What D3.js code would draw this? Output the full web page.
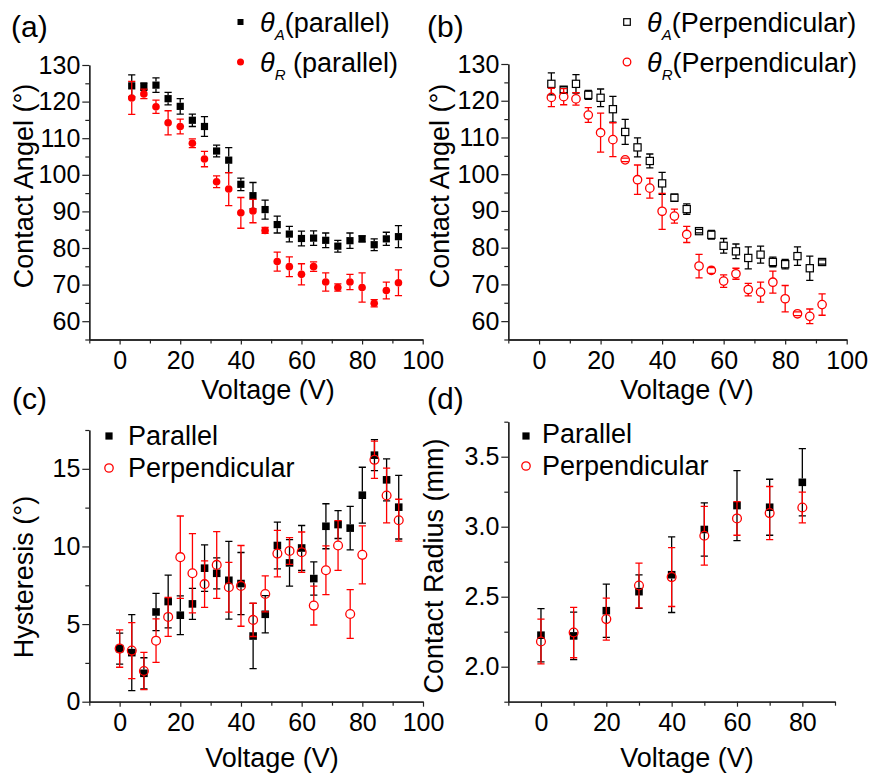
<!DOCTYPE html>
<html>
<head>
<meta charset="utf-8">
<script src="https://cdn.jsdelivr.net/npm/d3@7"></script>
<style>
  body { margin: 0; background: #fff; }
  svg text { font-family: "Liberation Sans", Arial, sans-serif; fill: #000; }
</style>
</head>
<body>
<div id="fig"></div>
<script>
// =============================================
// data
const voltAB = [4, 8, 12, 16, 20, 24, 28, 32, 36, 40, 44, 48, 52, 56, 60, 64, 68, 72, 76, 80, 84, 88, 92];

const thetaAPar    = [124.3, 124.1, 124.5, 120.8, 118.7, 114.9, 113.2, 106.5, 104.0, 97.4, 94.3, 90.5, 86.4, 83.8, 82.6, 82.7, 82.1, 80.5, 82.0, 82.5, 80.9, 82.5, 83.1];
const thetaAParErr = [3.0, 1.0, 2.0, 1.7, 2.1, 1.7, 2.7, 1.6, 3.4, 1.7, 3.6, 2.6, 2.3, 2.1, 2.0, 2.0, 2.0, 1.6, 2.1, 0.8, 1.6, 1.8, 3.0];
const thetaRPar    = [121.0, 122.1, 118.6, 114.2, 113.2, 108.6, 104.3, 98.1, 96.1, 89.6, 90.1, 84.8, 76.3, 74.9, 72.8, 74.9, 70.7, 69.2, 70.7, 69.2, 64.9, 68.4, 70.5];
const thetaRParErr = [4.5, 1.3, 1.8, 3.3, 2.0, 1.2, 2.1, 1.6, 4.5, 4.2, 3.2, 0.8, 2.6, 2.7, 2.9, 1.3, 2.5, 1.0, 2.1, 4.0, 1.0, 2.3, 3.5];

const thetaAPerp    = [124.6, 123.0, 124.6, 121.6, 120.8, 117.7, 111.5, 107.3, 103.6, 97.5, 93.6, 90.5, 84.5, 83.5, 80.5, 79.0, 77.2, 78.1, 76.1, 75.5, 77.7, 74.4, 76.1];
const thetaAPerpErr = [3.0, 0.8, 2.5, 1.2, 2.4, 3.5, 3.4, 2.6, 1.9, 3.0, 1.0, 1.4, 0.5, 1.2, 2.0, 2.0, 3.0, 2.3, 1.3, 1.3, 2.5, 3.3, 0.6];
const thetaRPerp    = [120.9, 121.1, 120.5, 116.1, 111.3, 109.4, 103.9, 98.5, 96.2, 89.9, 88.6, 83.6, 75.0, 73.8, 70.9, 72.9, 68.6, 67.9, 70.6, 66.1, 62.0, 61.3, 64.5];
const thetaRPerpErr = [2.5, 2.2, 1.7, 2.0, 5.3, 4.6, 0.5, 4.0, 2.7, 4.9, 1.9, 2.2, 3.2, 0.8, 1.7, 1.5, 1.7, 2.7, 3.0, 3.6, 0.5, 2.0, 2.9];

const voltC = [0, 4, 8, 12, 16, 20, 24, 28, 32, 36, 40, 44, 48, 52, 56, 60, 64, 68, 72, 76, 80, 84, 88, 92];
const hystPar     = [3.42, 3.16, 1.83, 5.78, 6.45, 5.57, 6.30, 8.60, 8.27, 7.82, 7.61, 4.23, 5.63, 10.06, 8.94, 9.90, 7.93, 11.30, 11.41, 11.18, 13.30, 15.88, 14.29, 12.53];
const hystParErr  = [1.0, 2.45, 1.0, 1.2, 1.7, 1.25, 1.0, 1.5, 1.0, 2.5, 2.0, 2.1, 1.2, 1.5, 1.5, 1.45, 1.07, 1.45, 0.9, 1.4, 1.8, 1.0, 1.35, 2.05];
const hystPerp    = [3.42, 3.29, 1.98, 3.93, 5.46, 9.31, 8.27, 7.57, 8.81, 7.37, 7.46, 5.27, 6.94, 9.54, 9.71, 9.63, 6.19, 8.47, 10.06, 5.65, 9.46, 15.58, 13.28, 11.69];
const hystPerpErr = [1.2, 1.8, 1.2, 1.4, 1.25, 2.65, 2.55, 1.5, 2.15, 1.6, 2.6, 1.07, 1.16, 1.5, 0.86, 1.3, 1.25, 1.57, 1.6, 1.57, 1.87, 1.2, 1.76, 1.35];

const voltD = [0, 10, 20, 30, 40, 50, 60, 70, 80];
const radPar     = [2.225, 2.22, 2.40, 2.536, 2.657, 2.98, 3.151, 3.139, 3.317];
const radParErr  = [0.19, 0.17, 0.19, 0.12, 0.27, 0.19, 0.25, 0.20, 0.24];
const radPerp    = [2.18, 2.244, 2.34, 2.58, 2.64, 2.935, 3.059, 3.097, 3.137];
const radPerpErr = [0.16, 0.18, 0.15, 0.16, 0.21, 0.21, 0.12, 0.19, 0.11];

// tick labels
const xTicks100      = [0, 20, 40, 60, 80, 100];
const xMinor100      = [-10, 10, 30, 50, 70, 90];
const xTicks80       = [0, 20, 40, 60, 80];
const xMinor80       = [-10, 10, 30, 50, 70, 90];
const angleTicks     = [60, 70, 80, 90, 100, 110, 120, 130];
const angleMinor     = [55, 65, 75, 85, 95, 105, 115, 125];
const hystTicks      = [0, 5, 10, 15];
const hystMinor      = [2.5, 7.5, 12.5, 17.5];
const radTicks       = [2.0, 2.5, 3.0, 3.5];
const radMinor       = [1.75, 2.25, 2.75, 3.25, 3.75];

const RED = '#ff0000';
const AXIS = '#222';

// =============================================
let svg = d3.select('#fig')
            .append('svg')
            .attr('width', 871)
            .attr('height', 773);

function drawAxes(p) {
  let x = d3.scaleLinear().domain(p.xDom).range([p.left, p.right]);
  let y = d3.scaleLinear().domain(p.yDom).range([p.bottom, p.top]);
  let g = svg.append('g');

  // minor ticks first
  g.append('g')
   .attr('transform', `translate(0,${p.bottom})`)
   .call(d3.axisBottom(x).tickValues(p.xMinor).tickSize(4).tickSizeOuter(0).tickFormat(''));
  g.append('g')
   .attr('transform', `translate(${p.left},0)`)
   .call(d3.axisLeft(y).tickValues(p.yMinor).tickSize(4).tickSizeOuter(0).tickFormat(''));

  g.append('g')
   .attr('class', 'xaxis')
   .attr('transform', `translate(0,${p.bottom})`)
   .call(d3.axisBottom(x).tickValues(p.xTicks).tickSize(5).tickPadding(7).tickSizeOuter(0));
  g.append('g')
   .attr('class', 'yaxis')
   .attr('transform', `translate(${p.left},0)`)
   .call(d3.axisLeft(y).tickValues(p.yTicks).tickSize(7).tickPadding(2).tickSizeOuter(0)
          .tickFormat(p.yFmt || d3.format('d')));

  g.selectAll('.domain').attr('stroke', AXIS).attr('stroke-width', 1.3);
  g.selectAll('.tick line').attr('stroke', AXIS).attr('stroke-width', 1.2);
  g.selectAll('.tick text')
   .attr('fill', '#000')
   .style('font-size', '25px')
   .style('font-family', '"Liberation Sans", Arial, sans-serif');

  // axis titles
  g.append('text')
   .attr('transform', `translate(${p.yTitleX},${p.yTitleY}) rotate(-90)`)
   .attr('text-anchor', 'middle')
   .style('font-size', '27px')
   .text(p.yTitle);
  g.append('text')
   .attr('x', p.xTitleX)
   .attr('y', p.xTitleY)
   .attr('text-anchor', 'middle')
   .style('font-size', '27px')
   .text('Voltage (V)');

  // panel letter
  g.append('text')
   .attr('x', p.labX)
   .attr('y', p.labY)
   .style('font-size', '30px')
   .text(p.label);

  return { x: x, y: y, g: g };
}

function addSeries(ax, xs, ys, es, o) {
  let data = xs.map((v, i) => ({ x: v, y: ys[i], e: es[i] }));
  let half = o.half;
  let cap = 3.6;
  let g = ax.g.append('g');

  g.selectAll('path.err')
   .data(data)
   .enter()
   .append('path')
   .attr('class', 'err')
   .attr('fill', 'none')
   .attr('stroke', o.color)
   .attr('stroke-width', 1.3)
   .attr('d', function(d) {
     let px = ax.x(d.x), py = ax.y(d.y);
     let top = ax.y(d.y + d.e), bot = ax.y(d.y - d.e);
     let s = '';
     if (top < py - half) s += `M${px},${py - half}V${top}`;
     s += `M${px - cap},${top}H${px + cap}`;
     if (bot > py + half) s += `M${px},${py + half}V${bot}`;
     s += `M${px - cap},${bot}H${px + cap}`;
     return s;
   });

  if (o.shape === 'square') {
    g.selectAll('rect')
     .data(data)
     .enter()
     .append('rect')
     .attr('x', d => ax.x(d.x) - half)
     .attr('y', d => ax.y(d.y) - half)
     .attr('width', half * 2)
     .attr('height', half * 2)
     .attr('fill', o.open ? 'none' : o.color)
     .attr('stroke', o.color)
     .attr('stroke-width', o.open ? 1.2 : 0);
  } else {
    g.selectAll('circle')
     .data(data)
     .enter()
     .append('circle')
     .attr('cx', d => ax.x(d.x))
     .attr('cy', d => ax.y(d.y))
     .attr('r', half)
     .attr('fill', o.open ? 'none' : o.color)
     .attr('stroke', o.color)
     .attr('stroke-width', o.open ? 1.3 : 0);
  }
}

function legendRow(px, py, tx, ty, shape, open, color, size, parts) {
  if (shape === 'square') {
    svg.append('rect')
       .attr('x', px - size).attr('y', py - size)
       .attr('width', size * 2).attr('height', size * 2)
       .attr('fill', open ? 'none' : color)
       .attr('stroke', color).attr('stroke-width', open ? 1.2 : 0);
  } else {
    svg.append('circle')
       .attr('cx', px).attr('cy', py).attr('r', size)
       .attr('fill', open ? 'none' : color)
       .attr('stroke', color).attr('stroke-width', open ? 1.3 : 0);
  }
  let t = svg.append('text').attr('x', tx).attr('y', ty).style('font-size', '27px');
  if (parts.sub) {
    t.append('tspan').style('font-style', 'italic').text('\u03B8');
    t.append('tspan').style('font-style', 'italic').style('font-size', '15px')
     .attr('dy', 8).text(parts.sub);
    t.append('tspan').attr('dy', -8).text(parts.text);
  } else {
    t.text(parts.text);
  }
}

// =============================================
// (a) parallel contact angles
let axA = drawAxes({
  left: 89.3, right: 422.7, top: 65, bottom: 339.5,
  xDom: [-10, 100], yDom: [55, 130],
  xTicks: xTicks100, xMinor: xMinor100, yTicks: angleTicks, yMinor: angleMinor,
  yTitle: 'Contact Angel (\u00B0)', yTitleX: 33, yTitleY: 186,
  xTitleX: 268, xTitleY: 399, label: '(a)', labX: 11, labY: 37
});
addSeries(axA, voltAB, thetaAPar, thetaAParErr, { color: '#000', shape: 'square', half: 3.6 });
addSeries(axA, voltAB, thetaRPar, thetaRParErr, { color: RED, shape: 'circle', half: 3.8 });
legendRow(240.5, 22, 260, 32, 'square', false, '#000', 3, { sub: 'A', text: '(parallel)' });
legendRow(240.5, 62, 260, 72, 'circle', false, RED, 3.5, { sub: 'R', text: ' (parallel)' });

// (b) perpendicular contact angles
let axB = drawAxes({
  left: 508.3, right: 846.7, top: 64, bottom: 339.5,
  xDom: [-10, 100], yDom: [55, 130],
  xTicks: xTicks100, xMinor: xMinor100, yTicks: angleTicks, yMinor: angleMinor,
  yTitle: 'Contact Angel (\u00B0)', yTitleX: 449, yTitleY: 186,
  xTitleX: 687, xTitleY: 399, label: '(b)', labX: 427, labY: 37
});
addSeries(axB, voltAB, thetaAPerp, thetaAPerpErr, { color: '#000', shape: 'square', half: 3.6, open: true });
addSeries(axB, voltAB, thetaRPerp, thetaRPerpErr, { color: RED, shape: 'circle', half: 4.2, open: true });
legendRow(627, 22, 647, 32, 'square', true, '#000', 3.3, { sub: 'A', text: '(Perpendicular)' });
legendRow(627, 62, 647, 72, 'circle', true, RED, 3.8, { sub: 'R', text: '(Perpendicular)' });

// (c) hysteresis
let axC = drawAxes({
  left: 89.3, right: 423, top: 430, bottom: 701.7,
  xDom: [-10, 100], yDom: [0, 17.5],
  xTicks: xTicks100, xMinor: xMinor100, yTicks: hystTicks, yMinor: hystMinor,
  yTitle: 'Hysteresis (\u00B0)', yTitleX: 33, yTitleY: 577,
  xTitleX: 272, xTitleY: 767, label: '(c)', labX: 12, labY: 409
});
addSeries(axC, voltC, hystPar, hystParErr, { color: '#000', shape: 'square', half: 3.8 });
addSeries(axC, voltC, hystPerp, hystPerpErr, { color: RED, shape: 'circle', half: 4.4, open: true });
legendRow(109, 436, 128, 445, 'square', false, '#000', 3.6, { text: 'Parallel' });
legendRow(109, 468, 128, 477, 'circle', true, RED, 4.2, { text: 'Perpendicular' });

// (d) contact radius
let axD = drawAxes({
  left: 508.3, right: 835, top: 421.7, bottom: 701.7,
  xDom: [-10, 90], yDom: [1.75, 3.75],
  xTicks: xTicks80, xMinor: xMinor80, yTicks: radTicks, yMinor: radMinor, yFmt: d3.format('.1f'),
  yTitle: 'Contact Radius (mm)', yTitleX: 443, yTitleY: 566,
  xTitleX: 687, xTitleY: 767, label: '(d)', labX: 427, labY: 409
});
addSeries(axD, voltD, radPar, radParErr, { color: '#000', shape: 'square', half: 3.8 });
addSeries(axD, voltD, radPerp, radPerpErr, { color: RED, shape: 'circle', half: 4.4, open: true });
legendRow(526, 436, 542, 443, 'square', false, '#000', 3.6, { text: 'Parallel' });
legendRow(526, 466, 542, 475, 'circle', true, RED, 4.2, { text: 'Perpendicular' });
</script>
</body>
</html>
